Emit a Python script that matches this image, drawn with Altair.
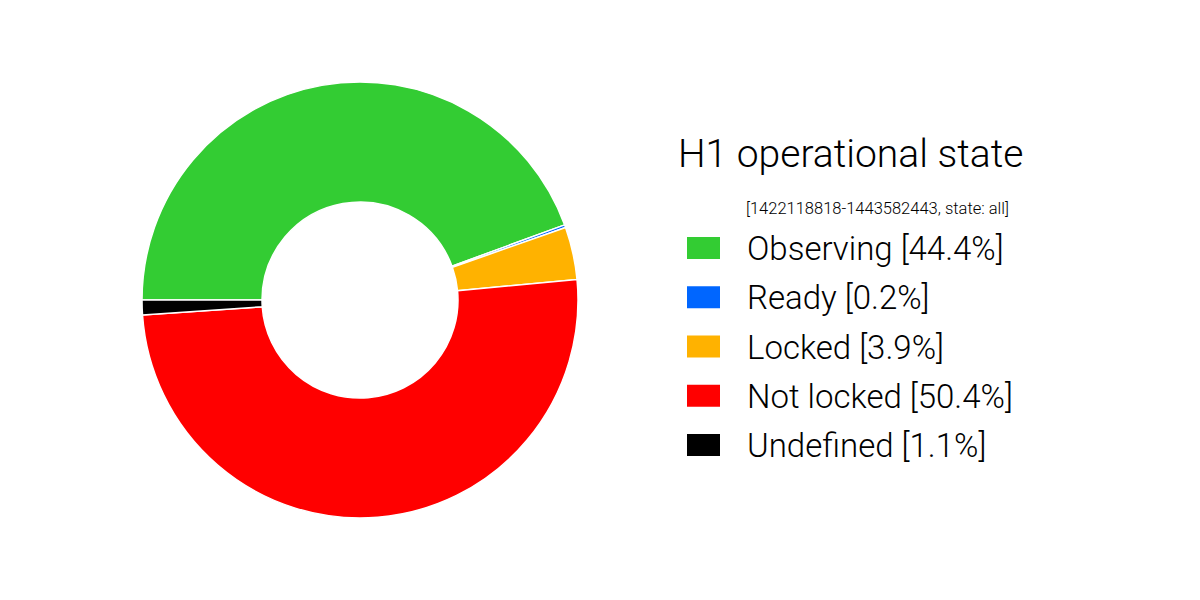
import math
import altair as alt
import pandas as pd

states = ["Observing", "Ready", "Locked", "Not locked", "Undefined"]
percent = [44.4, 0.2, 3.9, 50.4, 1.1]
colors = ["#33cc33", "#0066ff", "#ffb200", "#ff0000", "#000000"]
title_text = "H1 operational state"
subtitle_text = "[1422118818-1443582443, state: all]"

df = pd.DataFrame({"state": states, "percent": percent, "order": list(range(len(states)))})
df["label"] = [f"{s} [{p}%]" for s, p in zip(states, percent)]

color_scale = alt.Scale(domain=states, range=colors)
start = 1.5 * math.pi

base = alt.Chart(df)

pie = base.mark_arc(innerRadius=98, outerRadius=218, stroke="white", strokeWidth=1.5).encode(
    theta=alt.Theta("percent:Q", stack=True, scale=alt.Scale(domain=[0, 100], range=[start, start + 2 * math.pi])),
    order=alt.Order("order:Q"),
    color=alt.Color("state:N", scale=color_scale, legend=None),
    x=alt.value(352),
    y=alt.value(292),
)

yscale = alt.Scale(type="point", domain=states, range=[240, 437], padding=0)

sym = base.mark_point(shape="M-1,-0.667H1V0.667H-1Z", size=1089, filled=True, opacity=1, strokeWidth=0).encode(
    x=alt.value(695.5),
    y=alt.Y("state:N", scale=yscale, axis=None),
    color=alt.Color("state:N", scale=color_scale, legend=None),
)

lab = base.mark_text(align="left", baseline="middle", dy=2, fontSize=33, font="Roboto", fontWeight=300, color="black").encode(
    x=alt.value(739),
    y=alt.Y("state:N", scale=yscale, axis=None),
    text="label:N",
)

title = alt.Chart(pd.DataFrame({"t": [title_text]})).mark_text(
    align="left", baseline="alphabetic", fontSize=39, font="Roboto", fontWeight=300, color="black"
).encode(x=alt.value(670), y=alt.value(159), text="t:N")

subtitle = alt.Chart(pd.DataFrame({"t": [subtitle_text]})).mark_text(
    align="left", baseline="alphabetic", fontSize=16.5, font="Roboto", fontWeight=300, color="black"
).encode(x=alt.value(738), y=alt.value(206), text="t:N")

chart = alt.layer(pie, sym, lab, title, subtitle).properties(
    width=1184, height=584, padding=0, autosize=alt.AutoSizeParams(type="none")
).configure_view(stroke=None)

chart.save("out.html", embed_options={"renderer": "svg", "actions": False})
